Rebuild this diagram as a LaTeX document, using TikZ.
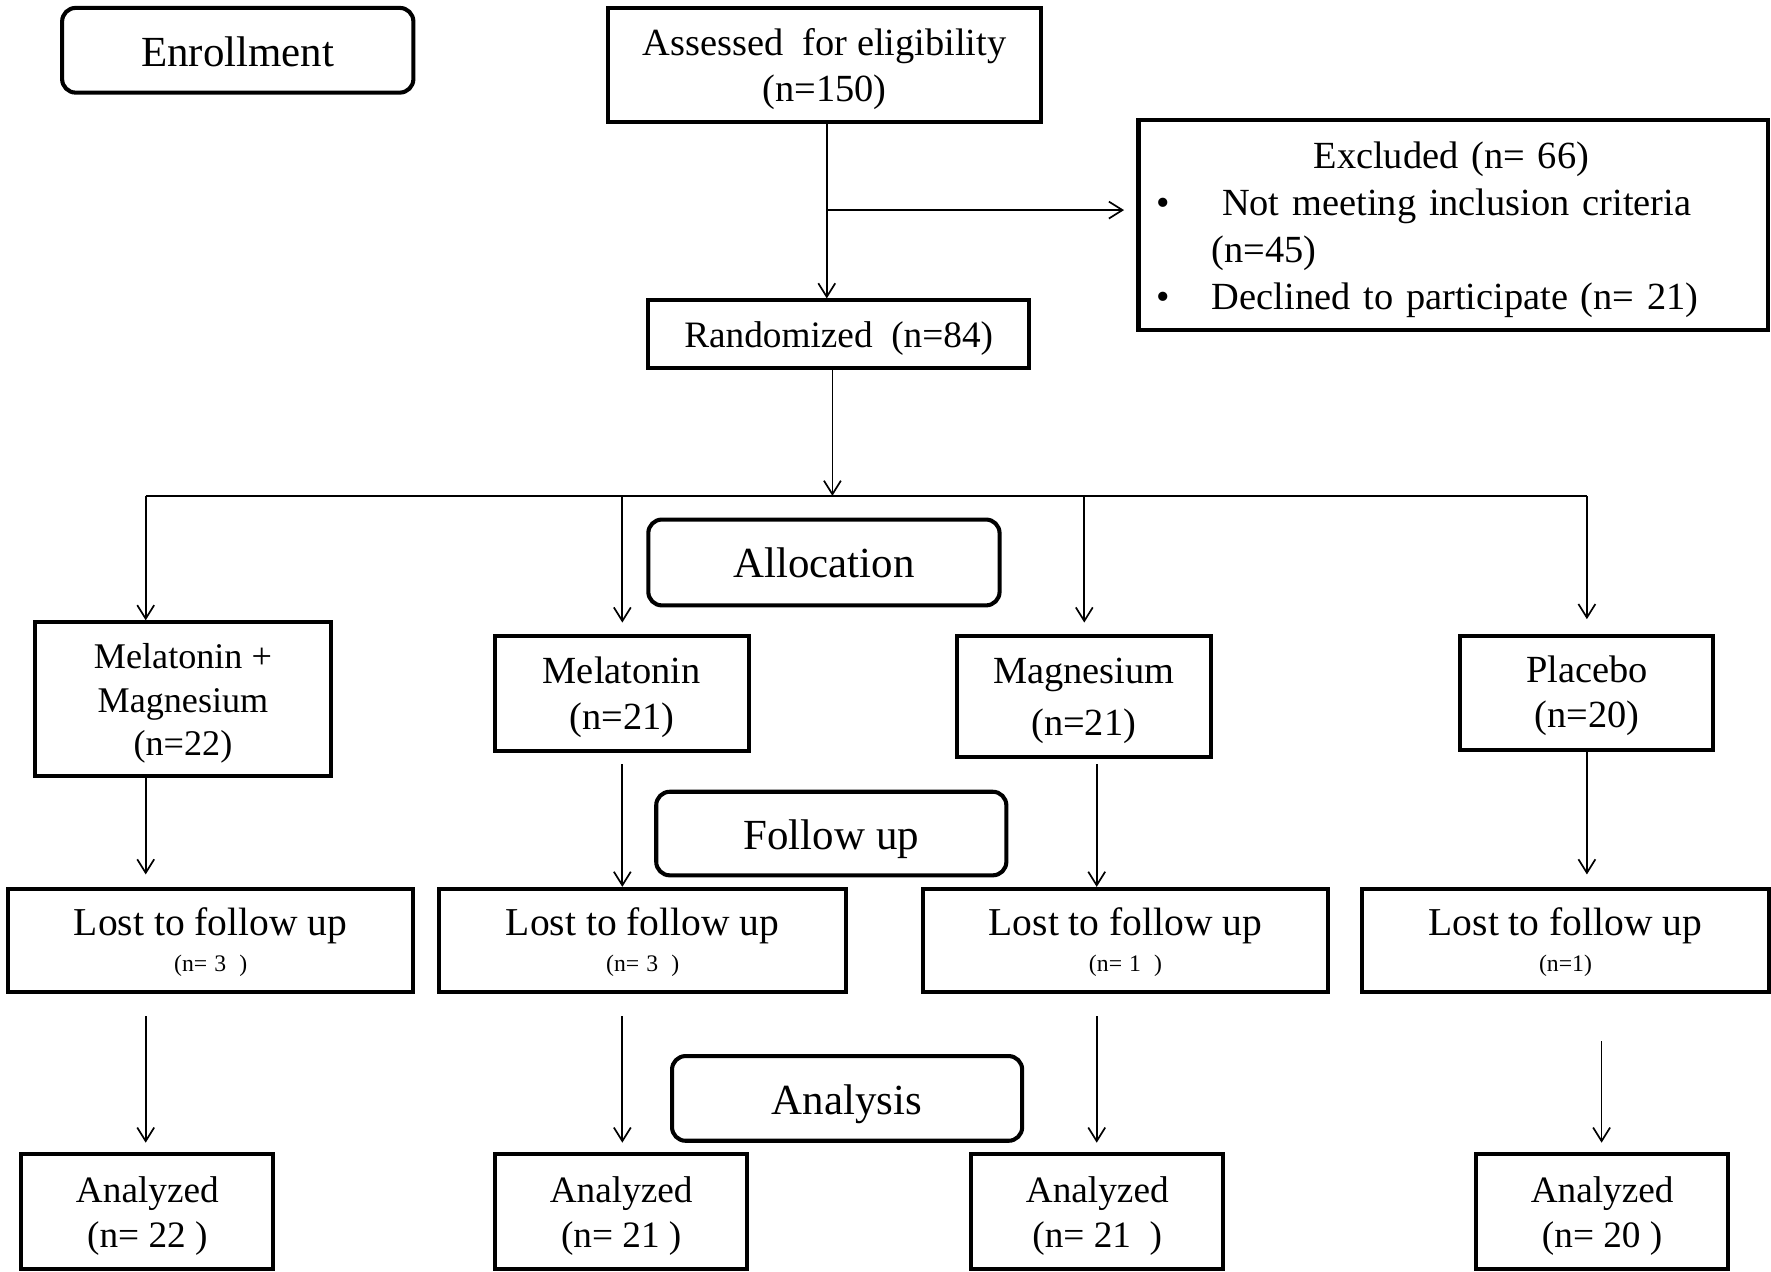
\documentclass[tikz,border=0pt]{standalone}
\usepackage{fontspec}
\setmainfont{Liberation Serif}
\usetikzlibrary{arrows.meta}
\newcommand{\lostnum}[1]{{\fontsize{21}{24}\selectfont #1}}
\newcommand{\upstrut}[1]{\rule{0pt}{\dimexpr0.683em+#1\relax}}
\begin{document}
\begin{tikzpicture}[x=1pt,y=-1pt,
  box/.style={draw, line width=3.6pt, inner sep=0pt, align=center, font=\fontsize{34}{40}\selectfont},
  rbox/.style={box, rounded corners=12pt, font=\fontsize{38}{44}\selectfont},
  lostbox/.style={box, minimum height=91pt, font=\fontsize{35}{32}\selectfont},
  anbox/.style={box, minimum width=223pt, minimum height=102pt, font=\fontsize{33}{40}\selectfont},
  lower/.style={execute at begin node={\upstrut{#1}}},
  ln/.style={line width=1.5pt},
  arr/.style={line width=1.5pt, -{Straight Barb[length=12pt,width=15pt]}}]
\useasboundingbox (0,0) rectangle (1568,1126);

% enrollment level
\node[rbox, minimum width=311pt, minimum height=75pt, lower=4pt] (enroll) at (210.5,44.5) {Enrollment};
\node[box, minimum width=384pt, minimum height=101pt] (assess) at (730,57.5) {\upstrut{8pt}Assessed~ for eligibility\\(n=150)};
\node[box, minimum height=186pt, text width=525pt, inner xsep=16pt, align=left,
      font=\fontsize{34}{41.7}\selectfont, lower=9pt] (excl) at (1286.5,199)
  {\hspace*{139pt}Excluded (n= 66)\\
   \makebox[58pt][l]{\textbullet}Not meeting inclusion criteria\\
   \hspace*{49pt}(n=45)\\
   \makebox[49pt][l]{\textbullet}Declined to participate (n= 21)};
\node[box, minimum width=337pt, minimum height=60pt, font=\fontsize{33}{40}\selectfont, lower=8pt] (rand) at (742.5,296) {Randomized~~(n=84)};

% allocation level
\node[rbox, minimum width=311pt, minimum height=76pt] (alloc) at (729.5,498) {Allocation};
\node[box, minimum width=262pt, minimum height=136pt, font=\fontsize{32}{38.5}\selectfont] (mm) at (162,619) {\upstrut{8pt}Melatonin +\\Magnesium\\(n=22)};
\node[box, minimum width=225pt, minimum height=102pt] (mel) at (550.5,614) {\upstrut{7pt}Melatonin\\(n=21)};
\node[box, minimum width=225pt, minimum height=107pt, font=\fontsize{34}{46}\selectfont] (mag) at (959.5,616.5) {\upstrut{8pt}Magnesium\\(n=21)};
\node[box, minimum width=224pt, minimum height=101pt] (pla) at (1405,613.5) {\upstrut{5pt}Placebo\\(n=20)};

% follow up level
\node[rbox, minimum width=310pt, minimum height=74pt, lower=10pt] (follow) at (736,738) {Follow up};
\node[lostbox, minimum width=359pt] (lost1) at (186.5,832.5) {\upstrut{4pt}Lost to follow up\\\lostnum{(n=\hspace{0.3em}3\hspace{0.55em})}};
\node[lostbox, minimum width=360pt] (lost2) at (569,832.5) {\upstrut{4pt}Lost to follow up\\\lostnum{(n=\hspace{0.3em}3\hspace{0.55em})}};
\node[lostbox, minimum width=359pt] (lost3) at (996.5,832.5) {\upstrut{4pt}Lost to follow up\\\lostnum{(n=\hspace{0.3em}1\hspace{0.55em})}};
\node[lostbox, minimum width=360pt] (lost4) at (1386,832.5) {\upstrut{4pt}Lost to follow up\\\lostnum{(n=1)}};

% analysis level
\node[rbox, minimum width=310pt, minimum height=75pt, lower=10pt] (analysis) at (750,972.5) {Analysis};
\node[anbox] (an1) at (130.5,1072.5) {\upstrut{8pt}Analyzed\\(n=~22~)};
\node[anbox] (an2) at (550,1072.5) {\upstrut{8pt}Analyzed\\(n=~21~)};
\node[anbox] (an3) at (971.5,1072.5) {\upstrut{8pt}Analyzed\\(n=~21~~)};
\node[anbox] (an4) at (1418.5,1072.5) {\upstrut{8pt}Analyzed\\(n=~20~)};

% connectors
\coordinate (j1) at (732,186);
\draw[arr] (assess.south -| j1) -- (rand.north -| j1);
\draw[arr, shorten >=11pt] (j1) -- (j1 -| excl.west);
\coordinate (j2) at (737,439);
\draw[arr] (rand.south -| j2) -- (j2);
\coordinate (c1) at (129,439);
\coordinate (c2) at (551,439);
\coordinate (c3) at (960,439);
\coordinate (c4) at (1405,439);
\draw[ln] (c1) -- (c4);
\draw[arr] (c1) -- (c1 |- mm.north);
\draw[arr, shorten >=10pt] (c2) -- (c2 |- mel.north);
\draw[arr, shorten >=10pt] (c3) -- (c3 |- mag.north);
\draw[arr, shorten >=13pt] (c4) -- (c4 |- pla.north);

\coordinate (v3) at (971,700);
\draw[arr, shorten >=11pt] (c1 |- mm.south) -- (c1 |- lost1.north);
\draw[arr, shorten <=10pt] (c2 |- mel.south) -- (c2 |- lost2.north);
\draw[arr, shorten <=5pt] (v3 |- mag.south) -- (v3 |- lost3.north);
\draw[arr, shorten >=11pt] (c4 |- pla.south) -- (c4 |- lost4.north);

\coordinate (v4) at (1418,900);
\draw[arr, shorten <=20pt, shorten >=8pt] (c1 |- lost1.south) -- (c1 |- an1.north);
\draw[arr, shorten <=20pt, shorten >=8pt] (c2 |- lost2.south) -- (c2 |- an2.north);
\draw[arr, shorten <=20pt, shorten >=8pt] (v3 |- lost3.south) -- (v3 |- an3.north);
\draw[arr, shorten <=42pt, shorten >=8pt] (v4 |- lost4.south) -- (v4 |- an4.north);
\end{tikzpicture}
\end{document}
